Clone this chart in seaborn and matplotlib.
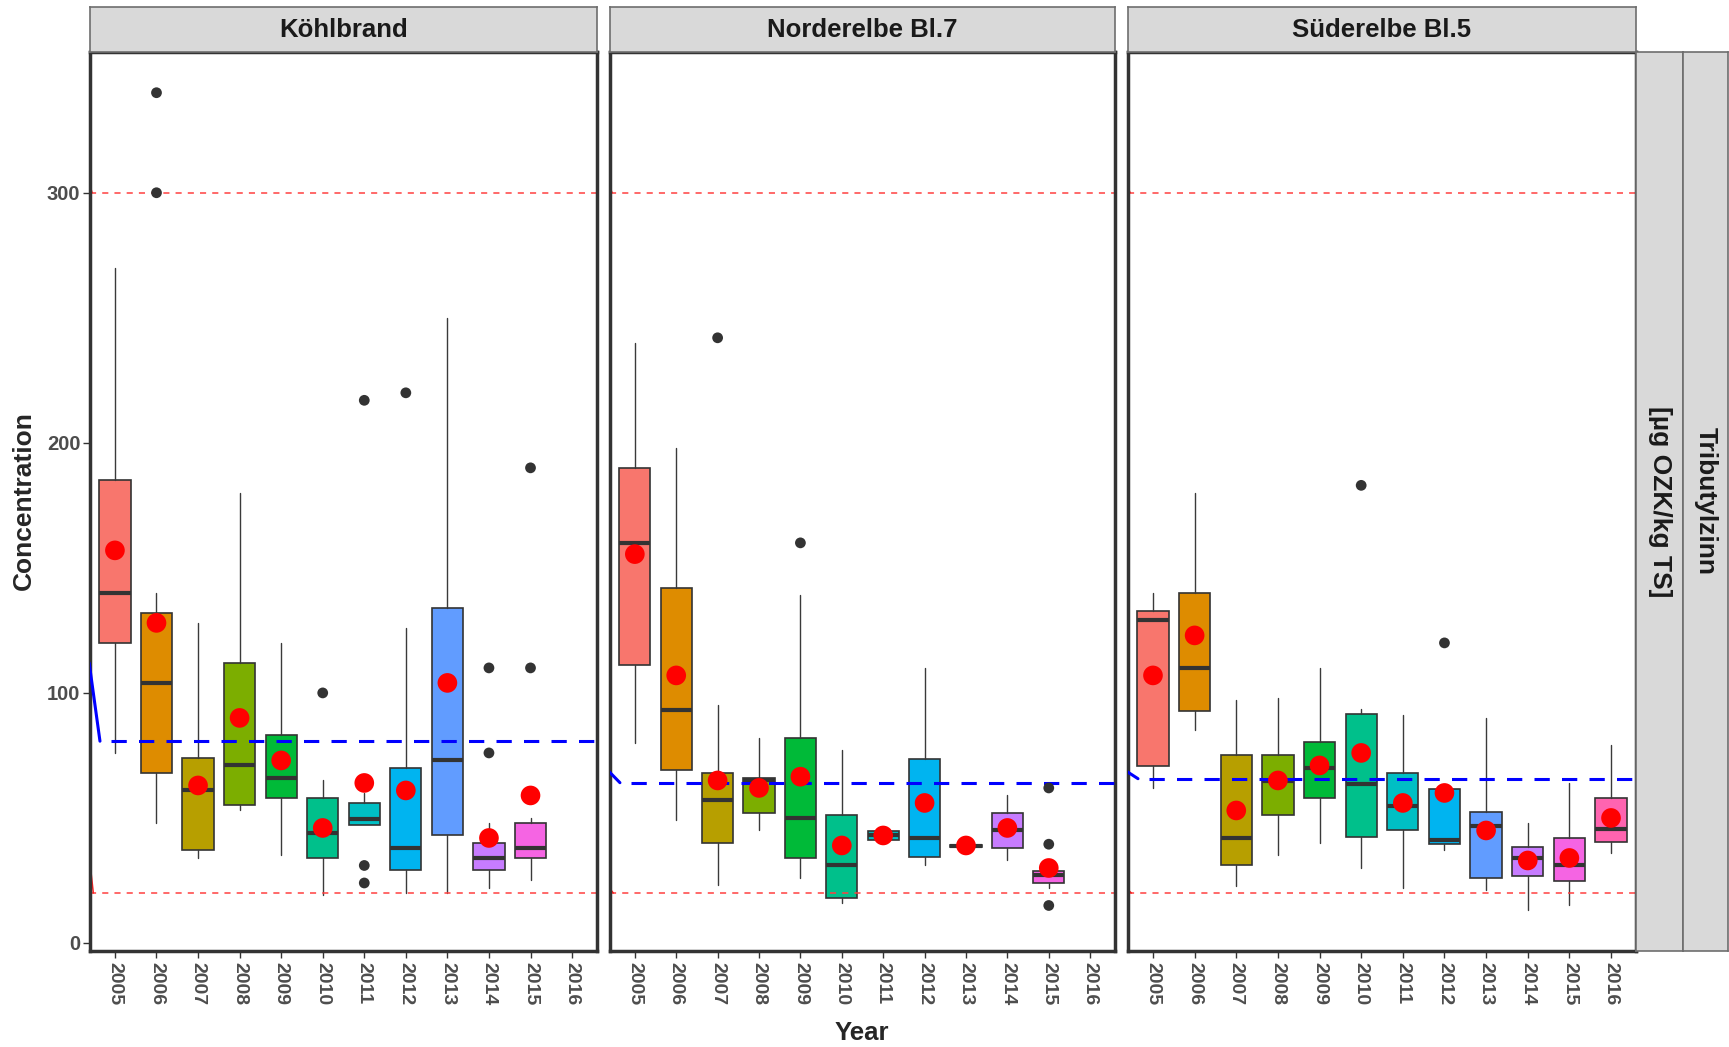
import matplotlib
matplotlib.use("Agg")
import matplotlib.pyplot as plt
import seaborn as sns
import pandas as pd

# ---------------------------------------------------------------
# Data (Tributylzinn, [µg OZK/kg TS])
# ---------------------------------------------------------------
years = [str(y) for y in range(2005, 2017)]
sites = ["Köhlbrand", "Norderelbe Bl.7", "Süderelbe Bl.5"]
palette = ["#F8766D", "#DE8C00", "#B79F00", "#7CAE00", "#00BA38", "#00C08B",
           "#00BFC4", "#00B4F0", "#619CFF", "#C77CFF", "#F564E3", "#FF64B0"]

# Köhlbrand
k_lo   = [76, 48, 34, 53, 35, 19, 47, 20, 20, 22, 25, None]
k_q1   = [120, 68, 37, 55, 58, 34, 47, 29, 43, 29, 34, None]
k_med  = [140, 104, 61, 71, 66, 44, 49.5, 38, 73, 34, 38, None]
k_q3   = [185, 132, 74, 112, 83, 58, 56, 70, 134, 40, 48, None]
k_hi   = [270, 140, 128, 180, 120, 65, 60, 126, 250, 48, 50, None]
k_mean = [157, 128, 63, 90, 73, 46, 64, 61, 104, 42, 59, None]
k_out_year = ["2006", "2006", "2010", "2011", "2011", "2011", "2012", "2014", "2014", "2015", "2015"]
k_out_val  = [340, 300, 100, 217, 31, 24, 220, 110, 76, 190, 110]

# Norderelbe Bl.7
n_lo   = [80, 49, 23, 45, 26, 16, 41.2, 31, 38.2, 33, 22, None]
n_q1   = [111, 69, 40, 52, 34, 18, 41.2, 34.5, 38.2, 38, 24, None]
n_med  = [160, 93, 57, 65, 50, 31, 43, 42, 38.6, 45, 27, None]
n_q3   = [190, 142, 68, 66, 82, 51, 44.6, 73.5, 39, 52, 28.6, None]
n_hi   = [240, 198, 95, 82, 139, 77, 44.6, 110, 39, 59, 29.5, None]
n_mean = [155.5, 107, 65, 62, 66.5, 39, 43, 56, 39, 46, 30, None]
n_out_year = ["2007", "2009", "2015", "2015", "2015"]
n_out_val  = [242, 160, 62, 39.5, 15]

# Süderelbe Bl.5
s_lo   = [62, 85, 22.6, 35, 40, 30, 22, 37, 21, 13, 15, 36]
s_q1   = [70.6, 92.7, 31, 51, 57.8, 42.5, 45, 39.4, 26, 26.7, 24.7, 40.5]
s_med  = [129, 110, 42, 64.7, 70, 63.7, 54.7, 41, 46.7, 34, 31, 45.6]
s_q3   = [132.8, 139.8, 75, 75, 80.5, 91.6, 67.8, 61.5, 52.5, 38.3, 42, 57.8]
s_hi   = [140, 180, 97, 98, 110, 93.6, 91, 61.5, 90, 48, 64, 79]
s_mean = [107, 123, 53, 65, 71, 76, 56, 60, 45, 33, 34, 50]
s_out_year = ["2010", "2012"]
s_out_val  = [183, 120]

# limits and site means (dashed lines)
limits = [20, 300]
site_means = [80.7, 64.1, 65.7]
# stray line pieces entering at the left panel edge
blue_edge = [112, 68.5, 68.5]
red_low_edge = [35, 22, 21.5]
red_top_edge = [304, 303, 303]

site_data = [
    (k_lo, k_q1, k_med, k_q3, k_hi, k_mean, k_out_year, k_out_val),
    (n_lo, n_q1, n_med, n_q3, n_hi, n_mean, n_out_year, n_out_val),
    (s_lo, s_q1, s_med, s_q3, s_hi, s_mean, s_out_year, s_out_val),
]

# ---------------------------------------------------------------
W, H = 1729, 1047
sns.set_theme(style="white")
plt.rcParams['font.family'] = ['Liberation Sans', 'DejaVu Sans']
fig = plt.figure(figsize=(W / 100, H / 100), dpi=100)

panel_x = [(90, 597), (610, 1115), (1128, 1636)]
top, bottom = 51.7, 951
edge = '#333333'

def fx(px):
    return px / W

def fy(py):
    return 1 - py / H

for i, site in enumerate(sites):
    lo, q1, med, q3, hi, mean, oy, ov = site_data[i]
    x0, x1 = panel_x[i]
    ax = fig.add_axes([fx(x0), fy(bottom), fx(x1 - x0), (bottom - top) / H])

    stats, pos, cols = [], [], []
    for j, yr in enumerate(years):
        if med[j] is None:
            continue
        stats.append(dict(whislo=lo[j], q1=q1[j], med=med[j], q3=q3[j], whishi=hi[j],
                          fliers=[], label=yr))
        pos.append(j)
        cols.append(palette[j])

    bp = ax.bxp(stats, positions=pos, widths=0.75, patch_artist=True, showfliers=False,
                showcaps=False,
                boxprops=dict(edgecolor=edge, linewidth=1.2),
                medianprops=dict(color=edge, linewidth=3, solid_capstyle='butt'),
                whiskerprops=dict(color='#3A3A3A', linewidth=1.0))
    for patch, c in zip(bp['boxes'], cols):
        patch.set_facecolor(c)

    # limit lines and site mean
    for lv in limits:
        ax.plot([-0.6, 11.6], [lv, lv], color='#FF4040', lw=1.1, ls=(0, (4, 4)), zorder=2.5)
    ax.plot([-0.62, -0.52], [red_low_edge[i], limits[0]], color='#FF2020', lw=1.1, zorder=2.5)
    ax.plot([-0.62, -0.55], [red_top_edge[i], limits[1]], color='#FF2020', lw=1.1, zorder=2.5)
    ax.plot([-0.1, 11.6], [site_means[i]] * 2, color='blue', lw=2.2, ls=(0, (5, 4)), zorder=3)
    ax.plot([-0.62, -0.36], [blue_edge[i], site_means[i]], color='blue', lw=2.2, zorder=3)

    # outliers and means
    out_df = pd.DataFrame({'pos': [years.index(y) for y in oy], 'val': ov})
    sns.scatterplot(data=out_df, x='pos', y='val', color='#333333', s=60,
                    edgecolor='none', ax=ax, zorder=4)
    mean_df = pd.DataFrame({'pos': pos, 'val': [mean[p] for p in pos]})
    sns.scatterplot(data=mean_df, x='pos', y='val', color='red', s=200,
                    edgecolor='none', ax=ax, zorder=5)

    ax.set_xlim(-0.6, 11.6)
    ax.set_ylim(-3.2, 356.4)
    ax.set_xticks(range(12))
    ax.set_xticklabels(years, rotation=270, fontsize=14, fontweight='bold', color='#4D4D4D')
    ax.set_yticks([0, 100, 200, 300])
    if i == 0:
        ax.set_yticklabels(['0', '100', '200', '300'], fontsize=14.5, fontweight='bold',
                           color='#4D4D4D')
        ax.tick_params(axis='y', left=True, length=5, width=1, color=edge, pad=2)
    else:
        ax.set_yticklabels([])
        ax.tick_params(axis='y', left=False)
    ax.tick_params(axis='x', bottom=True, length=5, width=1, color=edge, pad=3)
    ax.set_xlabel('')
    ax.set_ylabel('')
    ax.grid(False)
    ax.set_facecolor('white')
    for sp in ax.spines.values():
        sp.set_color(edge)
        sp.set_linewidth(2.5)
        sp.set_visible(True)

    # top strip
    st = fig.add_axes([fx(x0), fy(top), fx(x1 - x0), (top - 7) / H])
    st.set_facecolor('#D9D9D9')
    st.set_xticks([])
    st.set_yticks([])
    for sp in st.spines.values():
        sp.set_color('#6E6E6E')
        sp.set_linewidth(1.2)
    st.text(0.5, 0.48, site, ha='center', va='center', fontsize=18.5, fontweight='bold',
            color='#1A1A1A', transform=st.transAxes)

# right strips
for (sx0, sx1), label in zip([(1636, 1683), (1683, 1728)], ["[µg OZK/kg TS]", "Tributylzinn"]):
    rs = fig.add_axes([fx(sx0), fy(bottom), fx(sx1 - sx0), (bottom - top) / H])
    rs.set_facecolor('#D9D9D9')
    rs.set_xticks([])
    rs.set_yticks([])
    for sp in rs.spines.values():
        sp.set_color('#6E6E6E')
        sp.set_linewidth(1.2)
    rs.text(0.5, 0.5, label, ha='center', va='center', rotation=270, fontsize=19,
            fontweight='bold', color='#1A1A1A', transform=rs.transAxes)

fig.text(fx(862), fy(1033), 'Year', ha='center', va='center', fontsize=18.5, fontweight='bold')
fig.text(fx(24), fy(501), 'Concentration', ha='center', va='center', rotation=90,
         fontsize=19, fontweight='bold')

fig.savefig('out.png', dpi=100)
